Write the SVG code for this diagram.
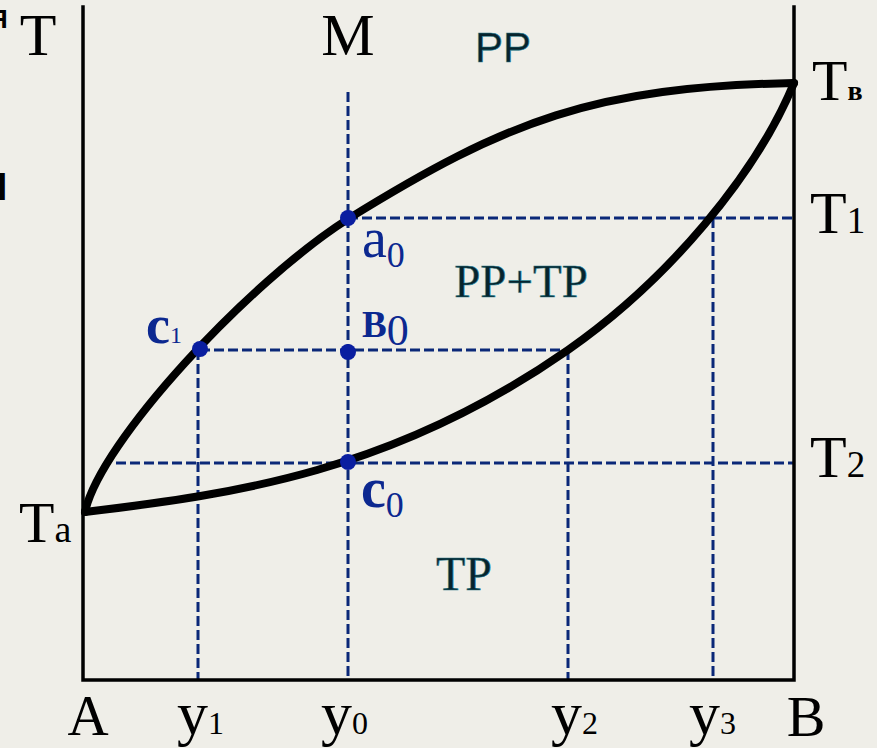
<svg xmlns="http://www.w3.org/2000/svg" width="877" height="748" viewBox="0 0 877 748">
<style>
.axis{stroke:#000;stroke-width:3.5;fill:none;stroke-linecap:square}
.curve{stroke:#000;stroke-width:8;fill:none;stroke-linecap:round;stroke-linejoin:round}
.dash{stroke:#0b2878;stroke-width:3;fill:none;stroke-dasharray:10 4}
.pt{fill:#0a1ea0}
.blk{fill:#000}
.blu{fill:#0c2890}
.zone{fill:#07232c;stroke:#2a7f8f;stroke-width:0.6}
</style>
<rect width="877" height="748" fill="#efeee8"/>
<g id="fragments" font-family="'Liberation Sans', Arial, sans-serif" font-weight="bold" fill="#000">
<text x="-11" y="28" font-size="26">Я</text>
<text x="-20" y="200" font-size="38">Я</text>
</g>
<g id="connectors">
<g id="guides">
<line class="dash" x1="348" y1="92" x2="348" y2="680"/>
<line class="dash" x1="348" y1="218" x2="794" y2="218"/>
<line class="dash" x1="200" y1="350" x2="568" y2="350"/>
<line class="dash" x1="116" y1="463" x2="794" y2="463"/>
<line class="dash" x1="198" y1="350" x2="198" y2="680"/>
<line class="dash" x1="568" y1="350" x2="568" y2="680"/>
<line class="dash" x1="713" y1="218" x2="713" y2="680"/>
</g>
<g id="axes">
<path class="axis" d="M83 7 V680 H794 V7"/>
</g>
<g id="curves">
<path id="liquidus" class="curve" d="M85 512 C100 442 249 282 348 219 C508 120 594 87 794 83"/>
<path id="solidus" class="curve" d="M85 512 C235 494 393 472 568 350 C668 280 756 175 794 83"/>
</g>
</g>
<g id="point-a0"><circle class="pt" cx="348" cy="218" r="8"/></g>
<g id="point-b0"><circle class="pt" cx="348" cy="352" r="8"/></g>
<g id="point-c0"><circle class="pt" cx="348" cy="462" r="8"/></g>
<g id="point-c1"><circle class="pt" cx="200" cy="349" r="8"/></g>
<g id="labels" font-family="'Liberation Serif', 'Times New Roman', 'DejaVu Serif', serif">
<text class="blk" x="38" y="55" font-size="60" text-anchor="middle">T</text>
<text class="blk" x="348" y="55" font-size="60" text-anchor="middle">M</text>
<text class="zone" x="503" y="62" font-size="42" text-anchor="middle" font-family="'Liberation Sans', Arial, sans-serif">PP</text>
<text class="blk" x="812" y="100" font-size="58">T<tspan font-size="28" font-weight="bold">в</tspan></text>
<text class="blk" x="810" y="233" font-size="60">T<tspan font-size="37">1</tspan></text>
<text class="blk" x="810" y="477" font-size="60">T<tspan font-size="37">2</tspan></text>
<text class="blk" x="19" y="542" font-size="58">T<tspan font-size="38">a</tspan></text>
<text class="blu" x="362" y="257" font-size="56">a<tspan font-size="36" dy="10">0</tspan></text>
<text class="blu" x="362" y="337" font-size="37" font-weight="bold">B<tspan font-size="44" font-weight="normal" dy="8">0</tspan></text>
<text class="blu" x="361" y="507" font-size="56" font-weight="bold">c<tspan font-size="36" font-weight="normal" dy="10">0</tspan></text>
<text class="blu" x="146" y="343" font-size="54" font-weight="bold">c<tspan font-size="24" font-weight="normal">1</tspan></text>
<text class="zone" x="521" y="297" font-size="47" text-anchor="middle">PP+TP</text>
<text class="zone" x="464" y="590" font-size="48" text-anchor="middle">TP</text>
<text class="blk" x="88" y="735" font-size="57" text-anchor="middle">A</text>
<text class="blk" x="177" y="734" font-size="62">y<tspan font-size="32">1</tspan></text>
<text class="blk" x="321" y="734" font-size="62">y<tspan font-size="32">0</tspan></text>
<text class="blk" x="551" y="734" font-size="62">y<tspan font-size="32">2</tspan></text>
<text class="blk" x="689" y="734" font-size="62">y<tspan font-size="32">3</tspan></text>
<text class="blk" x="806" y="736" font-size="58" text-anchor="middle">B</text>
</g>
</svg>
